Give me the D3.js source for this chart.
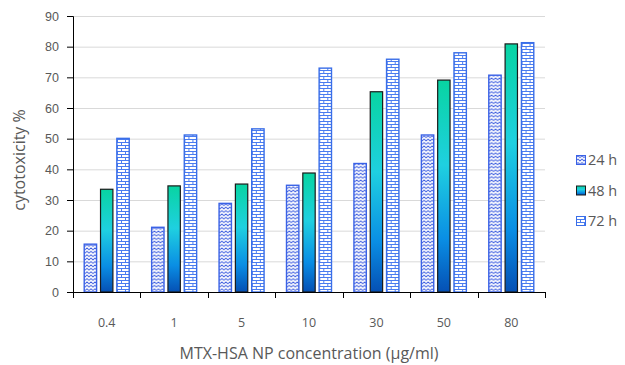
<!DOCTYPE html>
<html>
<head>
<meta charset="utf-8">
<script src="https://cdn.jsdelivr.net/npm/d3@7"></script>
<style>
  html, body { margin: 0; padding: 0; background: #fff; }
  svg { display: block; font-family: "Open Sans", "Noto Sans", sans-serif; }
</style>
</head>
<body>
<svg id="chart" width="625" height="365"></svg>
<script>
// Concentrations on the x axis
const concentrations = ["0.4", "1", "5", "10", "30", "50", "80"];
// Exposure times (series)
const seriesNames = ["24 h", "48 h", "72 h"];
// Cytotoxicity % per concentration, one array per exposure time
const values24h = [15.6, 21.1, 28.9, 34.8, 41.9, 51.2, 70.7];
const values48h = [33.5, 34.6, 35.2, 38.8, 65.3, 69.1, 80.9];
const values72h = [50.1, 51.2, 53.2, 73.0, 75.9, 78.0, 81.3];
const yTicks = [0, 10, 20, 30, 40, 50, 60, 70, 80, 90];

const seriesValues = [values24h, values48h, values72h];
const rows = concentrations.map((c, i) => ({
  conc: c,
  items: seriesNames.map((s, k) => ({ series: s, key: k, value: seriesValues[k][i] }))
}));

const svg = d3.select("#chart");
const margin = { left: 73, right: 80, top: 16, bottom: 73 };
const W = 625, H = 365;
const plotW = W - margin.left - margin.right;
const plotH = H - margin.top - margin.bottom;
const textColor = "#595959";

// ---- fills ----
const defs = svg.append("defs");

// zig-zag hatch for 24 h
const zig = defs.append("pattern").attr("id", "zigzag")
  .attr("patternUnits", "userSpaceOnUse").attr("width", 4).attr("height", 3.4);
zig.append("rect").attr("width", 4).attr("height", 3.4).attr("fill", "#fff");
zig.append("path").attr("d", "M-1,2.6 L0,2.6 L2,0.8 L4,2.6 L5,2.6")
  .attr("fill", "none").attr("stroke", "#3355dd").attr("stroke-width", 0.9);

// brick hatch for 72 h
const brick = defs.append("pattern").attr("id", "brick")
  .attr("patternUnits", "userSpaceOnUse").attr("width", 8).attr("height", 6);
brick.append("rect").attr("width", 8).attr("height", 6).attr("fill", "#fff");
brick.append("path")
  .attr("d", "M0,0.5 H8 M0,3.5 H8 M0.5,0 V3 M4.5,3 V6")
  .attr("fill", "none").attr("stroke", "#4a7cf0").attr("stroke-width", 1);

// vertical gradient for 48 h
const grad = defs.append("linearGradient").attr("id", "grad48")
  .attr("x1", 0).attr("y1", 0).attr("x2", 0).attr("y2", 1);
[["0%", "#08d4a2"], ["40%", "#1fd0e0"], ["75%", "#0a8ee4"], ["100%", "#0550b4"]]
  .forEach(([o, c]) => grad.append("stop").attr("offset", o).attr("stop-color", c));

const fills = ["url(#zigzag)", "url(#grad48)", "url(#brick)"];
const strokes = ["#3a62e6", "#1a1a1a", "#3a6ee8"];

// ---- scales ----
const x0 = d3.scaleBand().domain(concentrations).range([0, plotW]);
const groupW = 46;
const x1 = d3.scaleBand().domain(d3.range(seriesNames.length))
  .range([(x0.bandwidth() - groupW) / 2, (x0.bandwidth() + groupW) / 2])
  .paddingInner(0.18);
const y = d3.scaleLinear().domain([0, 90]).range([plotH, 0]);

const g = svg.append("g").attr("transform", `translate(${margin.left},${margin.top})`);

// gridlines
g.append("g").selectAll("line").data(yTicks.filter(t => t > 0)).join("line")
  .attr("x1", 0).attr("x2", plotW)
  .attr("y1", d => y(d) + 0.5).attr("y2", d => y(d) + 0.5)
  .attr("stroke", "#d9d9d9").attr("stroke-width", 1);

// bars
const groups = g.append("g").selectAll("g").data(rows).join("g")
  .attr("transform", d => `translate(${x0(d.conc)},0)`);
groups.selectAll("rect").data(d => d.items).join("rect")
  .attr("x", d => x1(d.key) + 0.5)
  .attr("width", x1.bandwidth() - 1)
  .attr("y", d => y(d.value))
  .attr("height", d => y(0) - y(d.value))
  .attr("fill", d => fills[d.key])
  .attr("stroke", d => strokes[d.key])
  .attr("stroke-width", d => d.key === 1 ? 1.2 : 1.4);

// y axis
const yAxis = g.append("g")
  .call(d3.axisLeft(y).tickValues(yTicks).tickSize(6).tickPadding(8).tickFormat(d3.format("d")));
yAxis.select(".domain").attr("stroke", "#000").attr("d", `M-6,${plotH + 0.5}H0.5V0.5H-6`);
yAxis.selectAll(".tick line").attr("stroke", "#000");
yAxis.selectAll("text").attr("fill", textColor).style("font-size", "12.5px");

// x axis with ticks on category boundaries
const xg = g.append("g").attr("transform", `translate(0,${plotH})`);
xg.append("line").attr("x1", -6).attr("x2", plotW).attr("y1", 0.5).attr("y2", 0.5).attr("stroke", "#000");
const boundaries = concentrations.map(c => x0(c)).concat([plotW]);
xg.selectAll("line.b").data(boundaries).join("line").attr("class", "b")
  .attr("x1", d => Math.round(d) + 0.5).attr("x2", d => Math.round(d) + 0.5)
  .attr("y1", 0).attr("y2", 6).attr("stroke", "#000");
xg.selectAll("text").data(concentrations).join("text")
  .attr("x", d => x0(d) + x0.bandwidth() / 2)
  .attr("y", 35)
  .attr("text-anchor", "middle")
  .attr("fill", textColor).style("font-size", "12.5px")
  .text(d => d);

// axis titles
svg.append("text")
  .attr("x", margin.left + plotW / 2 - 0).attr("y", 359)
  .attr("text-anchor", "middle").attr("fill", textColor).style("font-size", "16px")
  .text("MTX-HSA NP concentration (µg/ml)");
svg.append("text")
  .attr("transform", "translate(25,160) rotate(-90)")
  .attr("text-anchor", "middle").attr("fill", textColor).style("font-size", "16px")
  .text("cytotoxicity %");

// legend
const legend = svg.append("g").attr("transform", "translate(576,155)");
const li = legend.selectAll("g").data(seriesNames).join("g")
  .attr("transform", (d, i) => `translate(0,${i * 30.5})`);
li.append("rect").attr("width", 9).attr("height", 9).attr("x", 0.5).attr("y", 0.5)
  .attr("fill", (d, i) => fills[i]).attr("stroke", (d, i) => strokes[i]).attr("stroke-width", 1);
li.append("text").attr("x", 12).attr("y", 10)
  .attr("fill", textColor).style("font-size", "14.5px").text(d => d);
</script>
</body>
</html>
